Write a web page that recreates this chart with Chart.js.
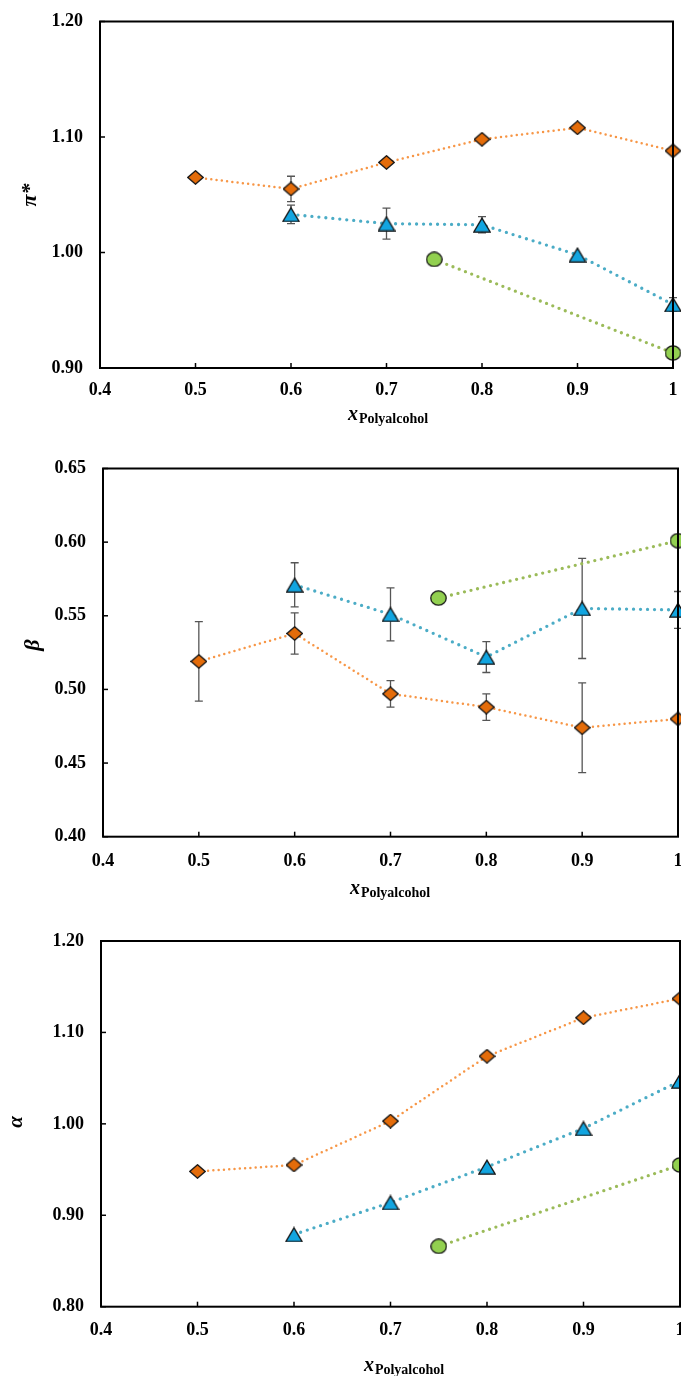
<!DOCTYPE html>
<html>
<head>
<meta charset="utf-8">
<script src="https://cdn.jsdelivr.net/npm/chart.js@4.4.0/dist/chart.umd.min.js"></script>
<style>
  html, body { margin: 0; padding: 0; background: #ffffff; }
  #page { position: relative; width: 681px; height: 1376px; overflow: hidden; background: #ffffff; }
  .panel { position: absolute; left: 0; width: 681px; }
  .panel canvas { display: block; }
</style>
</head>
<body>
<div id="page">
  <div class="panel" style="top:0px;height:440px"><canvas id="chartPi" width="681" height="440"></canvas></div>
  <div class="panel" style="top:440px;height:470px"><canvas id="chartBeta" width="681" height="470"></canvas></div>
  <div class="panel" style="top:910px;height:466px"><canvas id="chartAlpha" width="681" height="466"></canvas></div>
</div>
<script>
// ---- data ----
const xTickValues = [0.4, 0.5, 0.6, 0.7, 0.8, 0.9, 1.0];
const xTickLabels = ['0.4', '0.5', '0.6', '0.7', '0.8', '0.9', '1'];

const piTicks    = [0.90, 1.00, 1.10, 1.20];
const betaTicks  = [0.40, 0.45, 0.50, 0.55, 0.60, 0.65];
const alphaTicks = [0.80, 0.90, 1.00, 1.10, 1.20];

const xSeries1 = [0.5, 0.6, 0.7, 0.8, 0.9, 1.0];
const xSeries2 = [0.6, 0.7, 0.8, 0.9, 1.0];
const xSeries3 = [0.75, 1.0];

// pi*
const piSeries1    = [1.065, 1.055, 1.078, 1.098, 1.108, 1.088];
const piSeries1Err = [0, 0.011, 0, 0, 0, 0];
const piSeries2    = [1.033, 1.025, 1.024, 0.998, 0.955];
const piSeries2Err = [0.008, 0.0135, 0.007, 0, 0.006];
const piSeries3    = [0.994, 0.913];
const piSeries3Err = [0, 0];

// beta
const betaSeries1    = [0.519, 0.538, 0.497, 0.488, 0.474, 0.480];
const betaSeries1Err = [0.027, 0.014, 0.009, 0.009, 0.0305, 0];
const betaSeries2    = [0.571, 0.551, 0.522, 0.555, 0.554];
const betaSeries2Err = [0.015, 0.018, 0.0105, 0.034, 0.0125];
const betaSeries3    = [0.562, 0.601];
const betaSeries3Err = [0, 0];

// alpha
const alphaSeries1 = [0.948, 0.955, 1.003, 1.074, 1.116, 1.137];
const alphaSeries2 = [0.879, 0.914, 0.953, 0.995, 1.047];
const alphaSeries3 = [0.866, 0.955];

// ---- styling ----
const SERIF = "'Liberation Serif', 'Times New Roman', serif";
const ORANGE_FILL = '#E46C0A', ORANGE_LINE = '#F79646';
const BLUE_FILL = '#12A5E0', BLUE_LINE = '#4BACC6';
const GREEN_FILL = '#92D050', GREEN_LINE = '#9BBB59';

function makeMarker(w, h, fill, shape) {
  const c = document.createElement('canvas');
  c.width = w; c.height = h;
  const g = c.getContext('2d');
  g.fillStyle = fill;
  g.strokeStyle = '#151515';
  g.lineWidth = 1.3;
  g.lineJoin = 'miter';
  const i = 0.8;
  g.beginPath();
  if (shape === 'diamond') {
    g.moveTo(w / 2, i); g.lineTo(w - i, h / 2); g.lineTo(w / 2, h - i); g.lineTo(i, h / 2); g.closePath();
  } else if (shape === 'triangle') {
    g.moveTo(w / 2, i + 0.5); g.lineTo(w - i, h - i); g.lineTo(i, h - i); g.closePath();
  } else {
    g.ellipse(w / 2, h / 2, w / 2 - i, h / 2 - i, 0, 0, Math.PI * 2);
  }
  g.fill();
  g.stroke();
  return c;
}

const diamondMarker = makeMarker(17, 15, ORANGE_FILL, 'diamond');
const triangleMarker = makeMarker(18, 16, BLUE_FILL, 'triangle');
const circleMarker = makeMarker(17, 16, GREEN_FILL, 'circle');

function series(label, xs, ys, errs, lineColor, lineWidth, gap, marker) {
  return {
    label: label,
    data: xs.map((x, i) => ({ x: x, y: ys[i] })),
    errors: errs,
    borderColor: lineColor,
    borderWidth: lineWidth,
    borderDash: [0, gap],
    borderCapStyle: 'round',
    pointStyle: marker,
    pointRadius: 8,
    pointHoverRadius: 8,
    tension: 0,
    fill: false,
    clip: false
  };
}

// frame, inside tick marks, error bars and axis titles
const decorPlugin = {
  id: 'decor',
  beforeDatasetsDraw(chart) {
    const ctx = chart.ctx, xs = chart.scales.x, ys = chart.scales.y;
    ctx.save();
    ctx.strokeStyle = '#555555';
    ctx.lineWidth = 1.3;
    chart.data.datasets.forEach(ds => {
      if (!ds.errors) return;
      ds.data.forEach((p, i) => {
        const e = ds.errors[i];
        if (!e) return;
        const px = xs.getPixelForValue(p.x);
        const y1 = ys.getPixelForValue(p.y + e);
        const y2 = ys.getPixelForValue(p.y - e);
        ctx.beginPath();
        ctx.moveTo(px, y1); ctx.lineTo(px, y2);
        ctx.moveTo(px - 4, y1); ctx.lineTo(px + 4, y1);
        ctx.moveTo(px - 4, y2); ctx.lineTo(px + 4, y2);
        ctx.stroke();
      });
    });
    ctx.restore();
  },
  afterDatasetsDraw(chart) {
    const ctx = chart.ctx, a = chart.chartArea, xs = chart.scales.x, ys = chart.scales.y;
    ctx.save();
    ctx.strokeStyle = '#000000';
    ctx.lineWidth = 1.5;
    xs.ticks.forEach(t => {
      const px = xs.getPixelForValue(t.value);
      ctx.beginPath(); ctx.moveTo(px, a.bottom); ctx.lineTo(px, a.bottom - 5); ctx.stroke();
    });
    ys.ticks.forEach(t => {
      const py = ys.getPixelForValue(t.value);
      ctx.beginPath(); ctx.moveTo(a.left, py); ctx.lineTo(a.left + 5, py); ctx.stroke();
    });
    ctx.lineWidth = 2;
    ctx.strokeRect(a.left, a.top, a.right - a.left, a.bottom - a.top);
    ctx.restore();
  },
  afterDraw(chart) {
    const t = chart.options.plugins.decor;
    const ctx = chart.ctx;
    ctx.save();
    ctx.fillStyle = '#000000';
    // y title, rotated
    ctx.translate(t.yTitleX, t.yTitleY);
    ctx.rotate(-Math.PI / 2);
    ctx.font = 'italic bold ' + t.yTitleSize + 'px ' + SERIF;
    ctx.textAlign = 'center';
    ctx.textBaseline = 'middle';
    ctx.fillText(t.yTitle, 0, 0);
    ctx.restore();
    // x title with subscript
    ctx.save();
    ctx.fillStyle = '#000000';
    ctx.textBaseline = 'alphabetic';
    ctx.textAlign = 'left';
    const mainFont = 'italic bold 20px ' + SERIF;
    const subFont = 'bold 14px ' + SERIF;
    ctx.font = mainFont;
    const w1 = ctx.measureText('x').width;
    ctx.font = subFont;
    const w2 = ctx.measureText('Polyalcohol').width;
    const x0 = t.xTitleX - (w1 + 1 + w2) / 2;
    ctx.font = mainFont;
    ctx.fillText('x', x0, t.xTitleY);
    ctx.font = subFont;
    ctx.fillText('Polyalcohol', x0 + w1 + 1, t.xTitleY + 3);
    ctx.restore();
  }
};

function buildChart(canvasId, canvasH, area, yMin, yMax, yTicks, datasets, titles) {
  const tickFont = { family: SERIF, size: 18, weight: 'bold' };
  return new Chart(document.getElementById(canvasId), {
    type: 'line',
    data: { datasets: datasets },
    options: {
      responsive: false,
      animation: false,
      events: [],
      layout: {
        autoPadding: false,
        padding: { left: 0, top: area.top, right: 681 - area.right, bottom: 0 }
      },
      plugins: {
        legend: { display: false },
        tooltip: { enabled: false },
        decor: titles
      },
      scales: {
        x: {
          type: 'linear',
          min: 0.4, max: 1.0,
          grid: { display: false, drawTicks: false },
          border: { display: false },
          afterBuildTicks: s => { s.ticks = xTickValues.map(v => ({ value: v })); },
          afterFit: s => { s.height = canvasH - area.bottom; s.paddingLeft = 0; s.paddingRight = 0; },
          ticks: {
            color: '#000000',
            font: tickFont,
            padding: area.xPad,
            maxRotation: 0,
            autoSkip: false,
            callback: (v, i) => xTickLabels[i]
          }
        },
        y: {
          type: 'linear',
          min: yMin, max: yMax,
          grid: { display: false, drawTicks: false },
          border: { display: false },
          afterBuildTicks: s => { s.ticks = yTicks.map(v => ({ value: v })); },
          afterFit: s => { s.width = area.left; s.paddingTop = 0; s.paddingBottom = 0; },
          ticks: {
            color: '#000000',
            font: tickFont,
            padding: 17,
            autoSkip: false,
            callback: v => Number(v).toFixed(2)
          }
        }
      }
    },
    plugins: [decorPlugin]
  });
}

buildChart('chartPi', 440,
  { left: 100, top: 21.5, right: 673, bottom: 368, xPad: 12 },
  0.90, 1.20, piTicks,
  [
    series('Series 1', xSeries1, piSeries1, piSeries1Err, ORANGE_LINE, 2.5, 5.3, diamondMarker),
    series('Series 2', xSeries2, piSeries2, piSeries2Err, BLUE_LINE, 3.3, 7, triangleMarker),
    series('Series 3', xSeries3, piSeries3, piSeries3Err, GREEN_LINE, 3.3, 6.7, circleMarker)
  ],
  { yTitle: 'π*', yTitleSize: 22, yTitleX: 30, yTitleY: 195, xTitleX: 388, xTitleY: 420 }
);

buildChart('chartBeta', 470,
  { left: 103, top: 28.5, right: 678, bottom: 396.7, xPad: 13.5 },
  0.40, 0.65, betaTicks,
  [
    series('Series 1', xSeries1, betaSeries1, betaSeries1Err, ORANGE_LINE, 2.5, 5.3, diamondMarker),
    series('Series 2', xSeries2, betaSeries2, betaSeries2Err, BLUE_LINE, 3.3, 7, triangleMarker),
    series('Series 3', xSeries3, betaSeries3, betaSeries3Err, GREEN_LINE, 3.3, 6.7, circleMarker)
  ],
  { yTitle: 'β', yTitleSize: 22, yTitleX: 33, yTitleY: 205, xTitleX: 390, xTitleY: 453.5 }
);

buildChart('chartAlpha', 466,
  { left: 101, top: 31, right: 680, bottom: 396.7, xPad: 12.5 },
  0.80, 1.20, alphaTicks,
  [
    series('Series 1', xSeries1, alphaSeries1, null, ORANGE_LINE, 2.5, 5.3, diamondMarker),
    series('Series 2', xSeries2, alphaSeries2, null, BLUE_LINE, 3.3, 7, triangleMarker),
    series('Series 3', xSeries3, alphaSeries3, null, GREEN_LINE, 3.3, 6.7, circleMarker)
  ],
  { yTitle: 'α', yTitleSize: 21, yTitleX: 17, yTitleY: 212, xTitleX: 404, xTitleY: 461 }
);
</script>
</body>
</html>
